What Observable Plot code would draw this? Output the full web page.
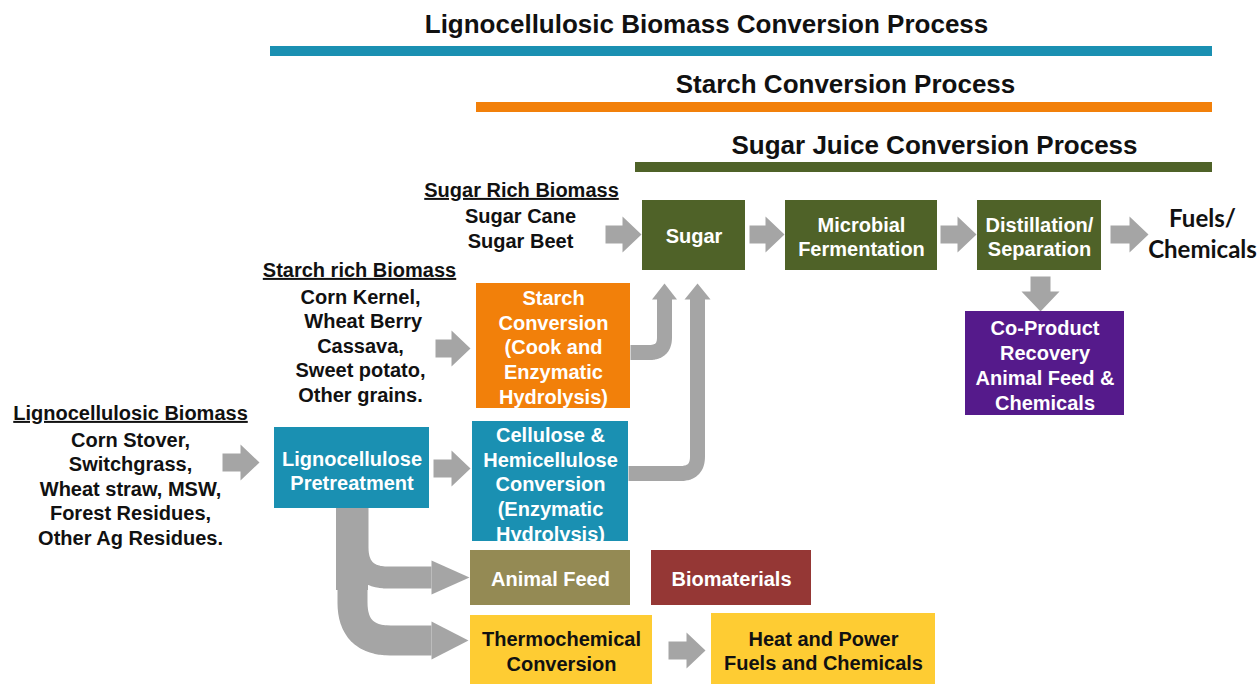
<!DOCTYPE html>
<html><head><meta charset="utf-8">
<script src="https://cdn.jsdelivr.net/npm/d3@7"></script>
<script src="https://cdn.jsdelivr.net/npm/@observablehq/plot@0.6"></script>
<style>body{margin:0;background:#fff}</style>
</head><body><div id="chart"></div>
<script>
// ---------- content ----------
const processTitles = ["Lignocellulosic Biomass Conversion Process", "Starch Conversion Process", "Sugar Juice Conversion Process"];
const processColors = ["#1a90b2", "#f2800a", "#4f6228"];

const boxLabels = [
  "Sugar", "Microbial\nFermentation", "Distillation/\nSeparation",
  "Co-Product\nRecovery\nAnimal Feed &\nChemicals",
  "Starch\nConversion\n(Cook and\nEnzymatic\nHydrolysis)",
  "Cellulose &\nHemicellulose\nConversion\n(Enzymatic\nHydrolysis)",
  "Lignocellulose\nPretreatment", "Animal Feed", "Biomaterials",
  "Thermochemical\nConversion", "Heat and Power\nFuels and Chemicals"
];
const boxColors = ["#4f6228", "#4f6228", "#4f6228", "#551a8b", "#f2800a", "#1a90b2", "#1a90b2", "#948a54", "#953735", "#fecc33", "#fecc33"];
const boxTextColors = ["#fff", "#fff", "#fff", "#fff", "#fff", "#fff", "#fff", "#fff", "#fff", "#111", "#111"];

const feedHeadings = ["Sugar Rich Biomass", "Starch rich Biomass", "Lignocellulosic Biomass"];
const feedItems = ["Sugar Cane\nSugar Beet", "Corn Kernel,\n Wheat Berry\nCassava,\nSweet potato,\nOther grains.", "Corn Stover,\nSwitchgrass,\nWheat straw, MSW,\nForest Residues,\nOther Ag Residues."];
const outputLabel = "Fuels/\nChemicals";

// ---------- layout (pixel space) ----------
const W = 1258, H = 684;
const processBars = [[270, 1212, 46, 56, 706, 24], [476, 1212, 102, 112, 845, 84], [635, 1212, 162, 172, 934, 145]];
const boxRects = [
  [642, 745, 200, 270], [785, 937, 200, 270], [977, 1101, 200, 270], [965, 1124, 311, 415],
  [476, 630, 283, 408], [472, 628, 421, 541], [274, 429, 427, 508], [470, 630, 550, 605],
  [651, 811, 550, 605], [470, 652, 615, 684], [711, 935, 613, 684]
];
const boxTextY = [235, 235.5, 235.5, 364, 346, 483, 469.5, 578, 578, 650, 649.5];
const feedPos = [[521, 190, 520, 227], [359, 270, 360, 344.5], [130, 413, 130, 487.5]];
const outputPos = [1202, 232];
// straight block arrows: x0,y0 -> x1,y1
const blockArrows = [
  [605, 234, 641, 234], [749, 234, 784, 234], [940, 234, 976, 234], [1110, 234, 1148, 234],
  [1040, 276, 1040, 311], [435, 348, 470, 348], [222, 462, 259, 462], [433, 468, 470, 468], [668, 650, 705, 650]
];
// bent bands: vertices, corner radius, width, head tip, head width, head length
const bentArrows = [
  {pts: [[630, 352], [664, 352], [664, 298]], r: 15, w: 15, tip: [664, 283], hw: 25, hl: 16},
  {pts: [[628, 473], [697, 473], [697, 298]], r: 17, w: 15, tip: [697, 283], hw: 26, hl: 16},
  {pts: [[357, 506], [357, 577], [431, 577]], r: 30, w: 22, tip: [469, 577], hw: 34, hl: 38},
  {pts: [[352, 506], [352, 640], [431, 640]], r: 38, w: 30, tip: [468, 640], hw: 38, hl: 37}
];
const trunk = [336, 368, 506, 590];
const gray = "#a5a5a5";

// ---------- geometry helpers ----------
function blockPoly(id, x0, y0, x1, y1, bw = 18, hw = 36, hl = 19) {
  const len = Math.hypot(x1 - x0, y1 - y0), ux = (x1 - x0) / len, uy = (y1 - y0) / len, px = -uy, py = ux;
  const nx = x1 - ux * hl, ny = y1 - uy * hl;
  const p = [
    [x0 + px * bw / 2, y0 + py * bw / 2], [nx + px * bw / 2, ny + py * bw / 2], [nx + px * hw / 2, ny + py * hw / 2],
    [x1, y1], [nx - px * hw / 2, ny - py * hw / 2], [nx - px * bw / 2, ny - py * bw / 2], [x0 - px * bw / 2, y0 - py * bw / 2]
  ];
  return p.map(([x, y]) => ({id, x, y}));
}
function headPoly(id, tip, from, hw, hl) {
  const len = Math.hypot(tip[0] - from[0], tip[1] - from[1]);
  const ux = (tip[0] - from[0]) / len, uy = (tip[1] - from[1]) / len, px = -uy, py = ux;
  const bx = tip[0] - ux * hl, by = tip[1] - uy * hl;
  return [[bx + px * hw / 2, by + py * hw / 2], tip, [bx - px * hw / 2, by - py * hw / 2]].map(([x, y]) => ({id, x, y}));
}
function elbow(id, pts, r) {
  const out = [{id, x: pts[0][0], y: pts[0][1]}];
  for (let i = 1; i < pts.length - 1; i++) {
    const [ax, ay] = pts[i - 1], [vx, vy] = pts[i], [bx, by] = pts[i + 1];
    const la = Math.hypot(vx - ax, vy - ay), lb = Math.hypot(bx - vx, by - vy);
    const s = [vx + (ax - vx) / la * r, vy + (ay - vy) / la * r], e = [vx + (bx - vx) / lb * r, vy + (by - vy) / lb * r];
    for (let k = 0; k <= 16; k++) {
      const t = k / 16, m = 1 - t;
      out.push({id, x: m * m * s[0] + 2 * m * t * vx + t * t * e[0], y: m * m * s[1] + 2 * m * t * vy + t * t * e[1]});
    }
  }
  const l = pts[pts.length - 1];
  out.push({id, x: l[0], y: l[1]});
  return out;
}

// ---------- tables ----------
const bars = processTitles.map((t, i) => ({t, c: processColors[i], x1: processBars[i][0], x2: processBars[i][1], y1: processBars[i][2], y2: processBars[i][3], tx: processBars[i][4], ty: processBars[i][5]}));
const boxes = boxLabels.map((t, i) => ({t, fill: boxColors[i], tc: boxTextColors[i], x1: boxRects[i][0], x2: boxRects[i][1], y1: boxRects[i][2], y2: boxRects[i][3], ty: boxTextY[i]}));
const feeds = feedHeadings.map((h, i) => ({h, items: feedItems[i], hx: feedPos[i][0], hy: feedPos[i][1], ix: feedPos[i][2], iy: feedPos[i][3]}));
let polys = [];
blockArrows.forEach((a, i) => { polys = polys.concat(blockPoly("b" + i, ...a, i === 4 ? 20 : 18, i === 4 ? 38 : 36, i === 4 ? 20 : 19)); });
let bands = [];
bentArrows.forEach((a, i) => {
  bands = bands.concat(elbow("c" + i, a.pts, a.r));
  polys = polys.concat(headPoly("h" + i, a.tip, a.pts[a.pts.length - 1], a.hw, a.hl));
});
const bandWidths = bentArrows.map(a => a.w);

const underline = (index, scales, values, dims, ctx, next) => {
  const g = next(index, scales, values, dims, ctx);
  g.querySelectorAll("text").forEach(t => { t.style.textDecoration = "underline"; });
  return g;
};
const font = "'Liberation Sans', Arial, sans-serif";

const chart = Plot.plot({
  width: W, height: H, margin: 0,
  x: {domain: [0, W], range: [0, W], axis: null},
  y: {domain: [0, H], range: [0, H], axis: null},
  style: {background: "#fff"},
  marks: [
    Plot.rect(bars, {x1: "x1", x2: "x2", y1: "y1", y2: "y2", fill: "c"}),
    Plot.text(bars, {x: "tx", y: "ty", text: "t", fontFamily: font, fontWeight: "bold", fontSize: 26, fill: "#111"}),
    Plot.rect([trunk], {x1: d => d[0], x2: d => d[1], y1: d => d[2], y2: d => d[3], fill: gray}),
    ...bentArrows.map((a, i) => Plot.line(bands.filter(d => d.id === "c" + i), {x: "x", y: "y", stroke: gray, strokeWidth: bandWidths[i], strokeLinecap: "butt", strokeLinejoin: "round"})),
    Plot.line(polys, {x: "x", y: "y", z: "id", fill: gray, stroke: "none", curve: "linear-closed"}),
    Plot.rect(boxes, {x1: "x1", x2: "x2", y1: "y1", y2: "y2", fill: "fill"}),
    Plot.text(boxes, {x: d => (d.x1 + d.x2) / 2, y: "ty", text: "t", fill: "tc", fontFamily: font, fontWeight: "bold", fontSize: 20, lineHeight: 1.24}),
    Plot.text(feeds, {x: "hx", y: "hy", text: "h", fill: "#111", fontFamily: font, fontWeight: "bold", fontSize: 20, render: underline}),
    Plot.text(feeds, {x: "ix", y: "iy", text: "items", fill: "#111", fontFamily: font, fontWeight: "bold", fontSize: 20, lineHeight: 1.23}),
    Plot.text([outputLabel], {x: outputPos[0], y: outputPos[1], text: d => d, fill: "#111", fontFamily: "Lato, sans-serif", fontWeight: "bold", fontSize: 24, lineHeight: 1.3})
  ]
});
document.getElementById("chart").appendChild(chart);
</script></body></html>
